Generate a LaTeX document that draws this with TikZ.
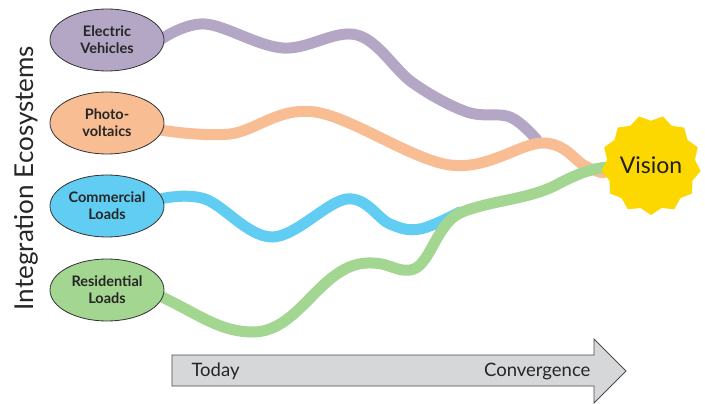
\documentclass[tikz,border=0pt]{standalone}
\usepackage{fontspec}
\setmainfont{Lato}
\usetikzlibrary{shapes.geometric}
\definecolor{evc}{HTML}{B4A7C6}
\definecolor{pvc}{HTML}{F9BD94}
\definecolor{cmc}{HTML}{62CDF2}
\definecolor{rsc}{HTML}{A3D690}
\definecolor{starc}{HTML}{FCD800}
\definecolor{arrc}{HTML}{D6D7D8}
\definecolor{edgec}{HTML}{333333}
\tikzset{
  eco/.style={ellipse, draw=edgec, line width=0.8pt, minimum width=114pt, minimum height=62pt,
    inner sep=0pt, align=center, font=\fontsize{14.5}{17}\selectfont\bfseries, text=black!85},
  flow/.style={line width=11pt, line cap=round},
}
\begin{document}
\begin{tikzpicture}[x=1pt,y=-1pt]
\useasboundingbox (0,0) rectangle (705,404);
\fill[white] (0,0) rectangle (705,404);

% flows
\coordinate (evend) at (537,140);
\coordinate (cmend) at (460,212);
\coordinate (pvend) at (603,173);
\coordinate (rsend) at (612,167);

\draw[flow, evc] plot[smooth, tension=0.6] coordinates {(160,40) (205,24) (283,48) (357,35) (413,83) (467,112) (510,117) (evend)};
\draw[flow, pvc] plot[smooth, tension=0.6] coordinates {(160,130) (230,134) (315,112) (450,165) (543,143) (585,166) (pvend)};
\draw[flow, cmc] plot[smooth, tension=0.6] coordinates {(160,199) (205,199) (272,237) (347,199) (390,224) (420,229) (cmend)};
\draw[flow, rsc] (160,296) .. controls (200,315) and (220,332) .. (253,332)
  .. controls (300,332) and (320,265) .. (367,263)
  .. controls (390,262) and (395,272) .. (410,270)
  .. controls (430,268) and (435,225) .. (460,213)
  .. controls (490,200) and (530,200) .. (560,183)
  .. controls (585,170) and (600,167) .. (rsend);

% ellipses
\node[eco, fill=evc] (ev) at (107,40) {Electric\\Vehicles};
\node[eco, fill=pvc] (pv) at (107,123) {Photo-\\voltaics};
\node[eco, fill=cmc] (cm) at (107,206) {Commercial\\Loads};
\node[eco, fill=rsc] (rs) at (107,290) {Residential\\Loads};

% vision star
\node[star, star points=13, star point ratio=1.13, minimum size=100pt, inner sep=0pt,
  fill=starc, shape border rotate=180] (vision) at (651,165) {};
\node[font=\fontsize{23}{26}\selectfont, text=black!88] (visiontxt) at (vision.center) {Vision};

% side label
\node[rotate=90, font=\fontsize{26}{30}\selectfont, text=black!85] (side) at (26,178) {Integration Ecosystems};

% timeline arrow
\draw[fill=arrc, draw=black!70, line width=0.9pt]
  (172,355) -- (594,355) -- (594,339) -- (626,371) -- (594,403) -- (594,386) -- (172,386) -- cycle;
\node[font=\fontsize{18.5}{22}\selectfont, text=black!85, anchor=west] (today) at (188,371) {Today};
\node[font=\fontsize{18.5}{22}\selectfont, text=black!85, anchor=east] (conv) at (594,371) {Convergence};
\end{tikzpicture}
\end{document}
